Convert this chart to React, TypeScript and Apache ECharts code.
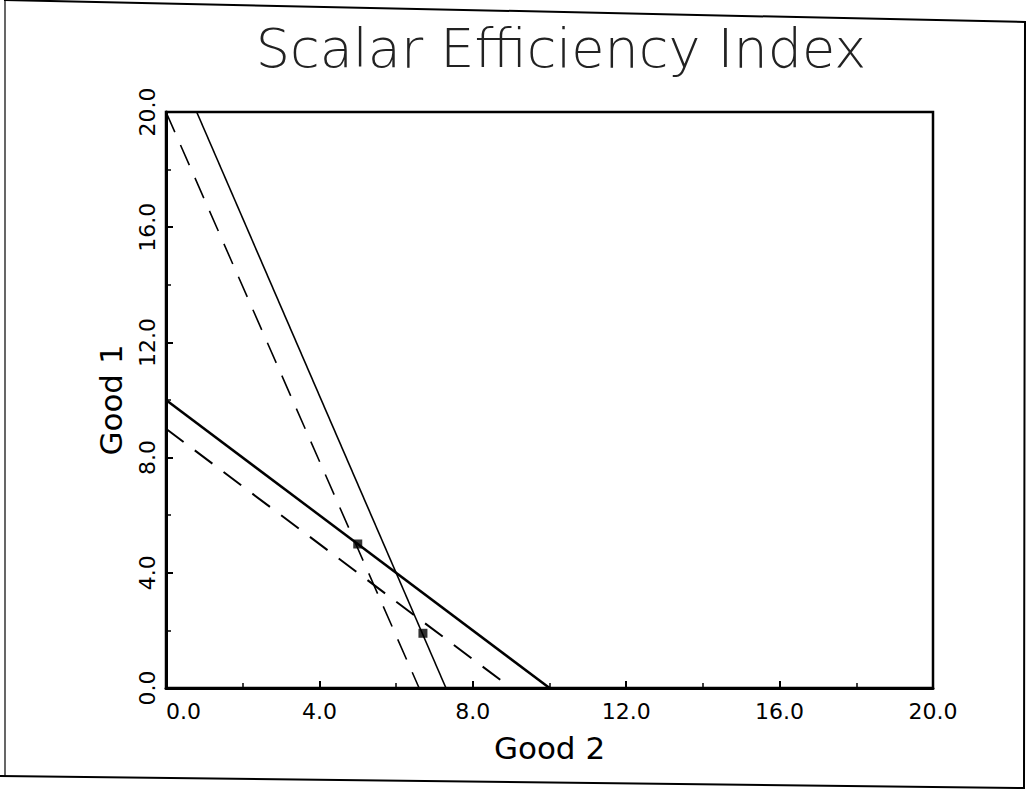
import React, { useEffect, useRef } from "react";
import * as echarts from "echarts";

const titleText = "Scalar Efficiency Index";
const xName = "Good 2";
const yName = "Good 1";

// Budget / indifference lines as [Good 2, Good 1] pairs
const solidShallow: [number, number][] = [[0, 10], [10, 0]];
const solidSteep: [number, number][] = [[0.8, 20], [7.3, 0]];
const dashedShallow: [number, number][] = [[0, 9], [9, 0]];
const dashedSteep: [number, number][] = [[0, 20], [6.6, 0]];
const points: [number, number][] = [[5.0, 5.0], [6.7, 1.9]];

const axisMin = 0;
const axisMax = 20;
const axisStep = 4;

export default function App() {
  const ref = useRef<HTMLDivElement>(null);
  useEffect(() => {
    if (!ref.current) return;
    const chart = echarts.init(ref.current, null, { renderer: "svg" });
    const labelFont = "'DejaVu Sans', sans-serif";
    const axisCommon = {
      type: "value" as const,
      min: axisMin,
      max: axisMax,
      interval: axisStep,
      splitLine: { show: false },
      axisLine: { show: true, onZero: false, lineStyle: { color: "#000", width: 3 } },
      axisTick: { show: true, inside: true, length: 7, lineStyle: { color: "#000", width: 2 } },
      minorTick: { show: true, splitNumber: 2, length: 5, lineStyle: { color: "#000", width: 1.5 } },
      nameLocation: "middle" as const,
      nameTextStyle: { fontSize: 31, color: "#000", fontFamily: labelFont },
    };
    chart.setOption({
      animation: false,
      backgroundColor: "#fff",
      title: {
        text: titleText,
        left: 556,
        top: 16,
        textAlign: "center",
        textStyle: {
          fontSize: 54,
          fontWeight: 200,
          color: "#222",
          fontFamily: "'DejaVu Sans', sans-serif",
        },
      },
      graphic: [
        {
          type: "polyline",
          shape: { points: [[4, 0], [1025, 22], [1024, 788], [0, 776]] },
          style: { stroke: "#000", lineWidth: 2, fill: "none" },
          silent: true,
        },
        {
          type: "line",
          shape: { x1: 5, y1: 0, x2: 5, y2: 776 },
          style: { stroke: "#000", lineWidth: 1.2 },
          silent: true,
        },
      ],
      grid: { left: 166, right: 100, top: 112, bottom: 105, show: true, borderColor: "#000", borderWidth: 2.5, backgroundColor: "transparent" },
      xAxis: {
        ...axisCommon,
        name: xName,
        nameGap: 44,
        axisLabel: {
          fontSize: 22,
          color: "#000",
          margin: 12,
          fontFamily: labelFont,
          formatter: (v: number) => v.toFixed(1),
          alignMinLabel: "left",
        },
      },
      yAxis: {
        ...axisCommon,
        name: yName,
        nameGap: 40,
        nameRotate: 90,
        axisLabel: {
          fontSize: 22,
          color: "#000",
          margin: 8,
          rotate: 90,
          fontFamily: labelFont,
          formatter: (v: number) => v.toFixed(1),
        },
      },
      series: [
        {
          type: "line",
          data: solidShallow,
          symbol: "none",
          lineStyle: { color: "#000", width: 2.5, type: "solid" },
        },
        {
          type: "line",
          data: solidSteep,
          symbol: "none",
          lineStyle: { color: "#000", width: 1.6, type: "solid" },
        },
        {
          type: "line",
          data: dashedShallow,
          symbol: "none",
          lineStyle: { color: "#000", width: 2, type: [22, 14] },
        },
        {
          type: "line",
          data: dashedSteep,
          symbol: "none",
          lineStyle: { color: "#000", width: 1.6, type: [22, 14] },
        },
        {
          type: "scatter",
          data: points,
          symbol: "rect",
          symbolSize: 9,
          itemStyle: { color: "#000" },
        },
      ],
    });
    return () => chart.dispose();
  }, []);
  return (
    <div
      ref={ref}
      style={{ position: "fixed", left: 0, top: 0, width: 1033, height: 793 }}
    />
  );
}
